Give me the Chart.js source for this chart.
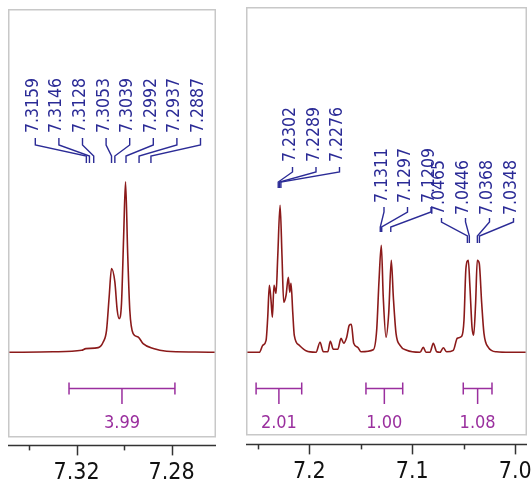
<!DOCTYPE html>
<html><head><meta charset="utf-8">
<script src="https://cdn.jsdelivr.net/npm/chart.js@4/dist/chart.umd.min.js"></script>
<style>
html,body{margin:0;padding:0;background:#fff;width:532px;height:487px;overflow:hidden;}
canvas{position:absolute;top:0;}
#left{left:0;} #right{left:236px;}
</style></head><body>
<canvas id="left" width="232" height="501"></canvas>
<canvas id="right" width="296" height="500"></canvas>
<script>
// ---- data (chemical shift in ppm, intensity) ----
const leftPpm = [7.3489, 7.3300, 7.3179, 7.3161, 7.3109, 7.3088, 7.3074, 7.3063, 7.3053, 7.3039, 7.3029, 7.3021, 7.3011, 7.3002, 7.2994, 7.2985, 7.2976, 7.2962, 7.2941, 7.2920, 7.2877, 7.2821, 7.2700, 7.2613];
const leftInt = [0, 0.5, 2, 3.7, 4.7, 10.3, 22, 55.3, 83.7, 70.3, 42, 33.7, 48.7, 115.3, 170.3, 99, 42, 18.7, 15.3, 8.7, 3.7, 1, 0.3, 0];

const rightPpm = [7.2615, 7.2485, 7.2452, 7.2420, 7.2404, 7.2388, 7.2372, 7.2359, 7.2343, 7.2323, 7.2307, 7.2284, 7.2265, 7.2249, 7.2226, 7.2204, 7.2190, 7.2178, 7.2161, 7.2146, 7.2097, 7.2032, 7.1935, 7.1896, 7.1864, 7.1821, 7.1796, 7.1767, 7.1724, 7.1692, 7.1666, 7.1637, 7.1612, 7.1592, 7.1569, 7.1530, 7.1498, 7.1379, 7.1346, 7.1323, 7.1301, 7.1282, 7.1255, 7.1229, 7.1204, 7.1184, 7.1158, 7.1119, 7.1054, 7.0925, 7.0893, 7.0867, 7.0828, 7.0796, 7.0763, 7.0731, 7.0699, 7.0666, 7.0602, 7.0563, 7.0520, 7.0498, 7.0479, 7.0456, 7.0440, 7.0420, 7.0404, 7.0385, 7.0369, 7.0350, 7.0326, 7.0304, 7.0262, 7.0181, 7.0052, 6.9886];
const rightInt = [0, 0, 7, 12, 35, 67, 52, 35, 67, 59, 95, 147, 95, 50, 57, 75, 60, 69, 40, 17, 7, 1.5, 0, 10, 0.5, 0.5, 11, 3, 3, 14, 9, 15, 27, 28, 9, 5, 0.5, 2.5, 22, 72, 107, 55, 15, 39, 92, 55, 19, 7, 2, 0, 5, 0, 0, 9, 0.5, 0, 4.5, 0.5, 2, 14, 16, 32, 84, 92, 65, 25, 17, 49, 92, 89, 49, 19, 5, 0.5, 0, 0];

const leftMajorTicks = [7.32, 7.28];
const leftMinorTicks = [7.34, 7.30];
const rightMajorTicks = [7.2, 7.1, 7.0];
const rightMinorTicks = [7.25, 7.15, 7.05];

const leftPeaks = [7.3159, 7.3146, 7.3128, 7.3053, 7.3039, 7.2992, 7.2937, 7.2887];
const rightPeaksA = [7.2302, 7.2289, 7.2276];
const rightPeaksB = [7.1311, 7.1297, 7.1209];
const rightPeaksC = [7.0465, 7.0446, 7.0368, 7.0348];

const leftIntegralFrom = [7.3232];
const leftIntegralTo = [7.2786];
const leftIntegralValue = [3.99];
const rightIntegralFrom = [7.2517, 7.1450, 7.0505];
const rightIntegralTo = [7.2074, 7.1093, 7.0226];
const rightIntegralValue = [2.01, 1.00, 1.08];

// ---- styling ----
const FONT = "'DejaVu Sans Condensed', 'DejaVu Sans', sans-serif";
const SPEC = '#8b1a1a', BLUE = '#2b2b96', PURPLE = '#9a2f9e';

function drawPanel(chart, cfg) {
  const ctx = chart.ctx, ca = chart.chartArea, xs = chart.scales.x;
  ctx.save();
  // frame
  ctx.strokeStyle = '#c8c8c8'; ctx.lineWidth = 1.5;
  ctx.strokeRect(ca.left + 0.75, ca.top + 0.75, ca.right - ca.left - 1.5, cfg.frameBottom - ca.top);
  // axis line + ticks
  ctx.strokeStyle = '#333'; ctx.lineWidth = 1.5;
  ctx.beginPath(); ctx.moveTo(ca.left, ca.bottom); ctx.lineTo(ca.right, ca.bottom); ctx.stroke();
  const tick = (v, len) => { const x = Math.round(xs.getPixelForValue(v)) + 0.5; ctx.beginPath(); ctx.moveTo(x, ca.bottom); ctx.lineTo(x, ca.bottom + len); ctx.stroke(); };
  cfg.major.forEach(v => tick(v, 10));
  cfg.minor.forEach(v => tick(v, 5));
  // peak labels
  ctx.font = '17.5px ' + FONT;
  cfg.groups.forEach(g => {
    g.values.forEach((v, i) => {
      const lx = g.x0 + i * g.dx;
      const px = xs.getPixelForValue(v);
      ctx.strokeStyle = BLUE; ctx.lineWidth = 1.4;
      ctx.beginPath();
      ctx.moveTo(lx + 2, g.legTop); ctx.lineTo(lx + 2, g.knee);
      ctx.lineTo(px, g.foot); ctx.lineTo(px, g.end);
      ctx.stroke();
      ctx.save();
      ctx.translate(lx, g.textBottom); ctx.rotate(-Math.PI / 2);
      ctx.fillStyle = BLUE; ctx.textAlign = 'left'; ctx.textBaseline = 'middle';
      ctx.fillText(v.toFixed(4), 0, 0);
      ctx.restore();
    });
  });
  // integrals
  ctx.strokeStyle = PURPLE; ctx.fillStyle = PURPLE; ctx.lineWidth = 1.5;
  ctx.font = '18px ' + FONT; ctx.textAlign = 'center'; ctx.textBaseline = 'middle';
  cfg.intFrom.forEach((a, i) => {
    const x1 = xs.getPixelForValue(a), x2 = xs.getPixelForValue(cfg.intTo[i]);
    const xm = (x1 + x2) / 2, y = 388.5;
    ctx.beginPath();
    ctx.moveTo(x1, y); ctx.lineTo(x2, y);
    ctx.moveTo(x1, y - 6); ctx.lineTo(x1, y + 6);
    ctx.moveTo(x2, y - 6); ctx.lineTo(x2, y + 6);
    ctx.moveTo(xm, y); ctx.lineTo(xm, 404);
    ctx.stroke();
    ctx.fillText(cfg.intVal[i].toFixed(2), xm, 423);
  });
  ctx.restore();
}

function makePanel(id, p) {
  const allTicks = p.major.concat(p.minor).sort((a, b) => a - b);
  return new Chart(document.getElementById(id), {
    type: 'line',
    data: { datasets: [{
      data: p.ppm.map((x, i) => ({ x: x, y: p.int[i] })),
      borderColor: SPEC, borderWidth: 1.6, pointRadius: 0,
      cubicInterpolationMode: 'monotone', fill: false
    }] },
    options: {
      responsive: false, animation: false, devicePixelRatio: 1,
      layout: { padding: p.pad },
      plugins: { legend: { display: false }, tooltip: { enabled: false } },
      scales: {
        x: {
          type: 'linear', reverse: true, min: p.xmin, max: p.xmax, position: 'bottom',
          grid: { display: false, drawTicks: false }, border: { display: false },
          afterBuildTicks: s => { s.ticks = allTicks.map(v => ({ value: v })); },
          ticks: {
            padding: 14, autoSkip: false, maxRotation: 0, minRotation: 0,
            color: '#111', font: { family: FONT, size: 23 },
            callback: v => p.major.includes(v) ? v.toFixed(p.dec) : ''
          }
        },
        y: { display: false, min: p.ymin, max: p.ymax }
      }
    },
    plugins: [{ id: 'nmr' + id, afterDraw: c => drawPanel(c, p) }]
  });
}

makePanel('left', {
  ppm: leftPpm, int: leftInt, major: leftMajorTicks, minor: leftMinorTicks, dec: 2,
  xmin: 7.2613, xmax: 7.3489, ymin: -93, ymax: 343,
  pad: { left: 8, right: 16, top: 9, bottom: 0 }, frameBottom: 436,
  groups: [{ values: leftPeaks, x0: 33.3, dx: 23.6, textBottom: 133, legTop: 138, knee: 145, foot: 156, end: 163 }],
  intFrom: leftIntegralFrom, intTo: leftIntegralTo, intVal: leftIntegralValue
});

makePanel('right', {
  ppm: rightPpm, int: rightInt, major: rightMajorTicks, minor: rightMinorTicks, dec: 1,
  xmin: 6.9886, xmax: 7.2615, ymin: -92, ymax: 345,
  pad: { left: 10, right: 5, top: 7, bottom: 0 }, frameBottom: 434,
  groups: [
    { values: rightPeaksA, x0: 290.5 - 236, dx: 23.5, textBottom: 162, legTop: 167, knee: 172, foot: 182, end: 188 },
    { values: rightPeaksB, x0: 382 - 236, dx: 23.5, textBottom: 203, legTop: 207, knee: 212, foot: 227, end: 232 },
    { values: rightPeaksC, x0: 439.5 - 236, dx: 24, textBottom: 215, legTop: 218, knee: 222, foot: 236, end: 243 }
  ],
  intFrom: rightIntegralFrom, intTo: rightIntegralTo, intVal: rightIntegralValue
});
</script>
</body></html>
